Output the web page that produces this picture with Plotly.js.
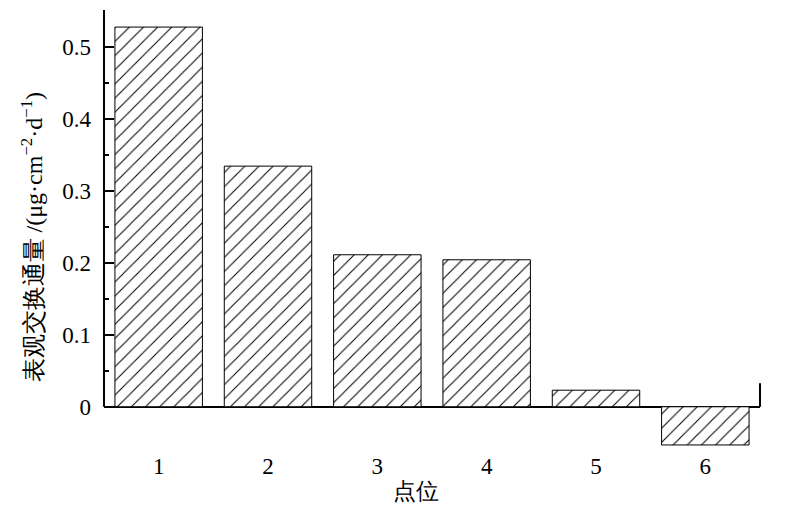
<!DOCTYPE html>
<html>
<head>
<meta charset="utf-8">
<script src="https://cdn.plot.ly/plotly-3.0.1.min.js"></script>
</head>
<body style="margin:0">
<div id="chart" style="width:800px;height:509px"></div>
<script>
// sites and apparent exchange flux values
let sites = ["1", "2", "3", "4", "5", "6"];
let flux = [0.527, 0.334, 0.211, 0.204, 0.023, -0.053];

let yTicks = [0, 0.1, 0.2, 0.3, 0.4, 0.5];
let yTickText = ["0", "0.1", "0.2", "0.3", "0.4", "0.5"];
let yMinor = [0.05, 0.15, 0.25, 0.35, 0.45];

let trace = {
    x: sites,
    y: flux,
    type: "bar",
    marker: {
        color: "white",
        line: { color: "black", width: 1 },
        pattern: { shape: "/", fgcolor: "black", bgcolor: "white", size: 10, solidity: 0.1 }
    }
};

let layout = {
    width: 800,
    height: 509,
    margin: { l: 104, r: 40, t: 10, b: 59 },
    showlegend: false,
    bargap: 0.2,
    xaxis: {
        type: "category",
        range: [-0.5, 5.5],
        ticks: "",
        showgrid: false,
        zeroline: false,
        tickfont: { family: "Liberation Serif", size: 23, color: "black" }
    },
    yaxis: {
        range: [-0.06, 0.5507],
        tickmode: "array",
        tickvals: yTicks,
        ticktext: yTickText,
        ticks: "inside",
        ticklen: 10,
        tickwidth: 2,
        tickcolor: "black",
        ticklabelstandoff: 12,
        minor: { tickmode: "array", tickvals: yMinor, ticks: "inside", ticklen: 5, tickwidth: 2, tickcolor: "black" },
        showgrid: false,
        zeroline: true,
        zerolinecolor: "black",
        zerolinewidth: 2,
        tickfont: { family: "Liberation Serif", size: 23, color: "black" }
    },
    shapes: [
        // left axis spine from zero to top
        { type: "line", xref: "paper", yref: "y", x0: 0, x1: 0, y0: 0, y1: 0.5507, line: { color: "black", width: 2 } },
        // short right spine
        { type: "line", xref: "paper", yref: "y", x0: 1, x1: 1, y0: 0, y1: 0.0326, line: { color: "black", width: 2 } }
    ],
    annotations: [
        {
            text: "表观交换通量 /(μg·cm<sup>−2</sup>·d<sup>−1</sup>)",
            xref: "paper", yref: "paper",
            x: -0.11, y: 0.485,
            xanchor: "center", yanchor: "middle",
            textangle: -90,
            showarrow: false,
            font: { family: "Liberation Serif", size: 24, color: "black" }
        },
        {
            text: "点位",
            xref: "paper", yref: "paper",
            x: 0.476, y: -0.095,
            xanchor: "center", yanchor: "middle",
            showarrow: false,
            font: { family: "Liberation Serif", size: 23, color: "black" }
        }
    ]
};

Plotly.newPlot("chart", [trace], layout, { staticPlot: true });
</script>
</body>
</html>
